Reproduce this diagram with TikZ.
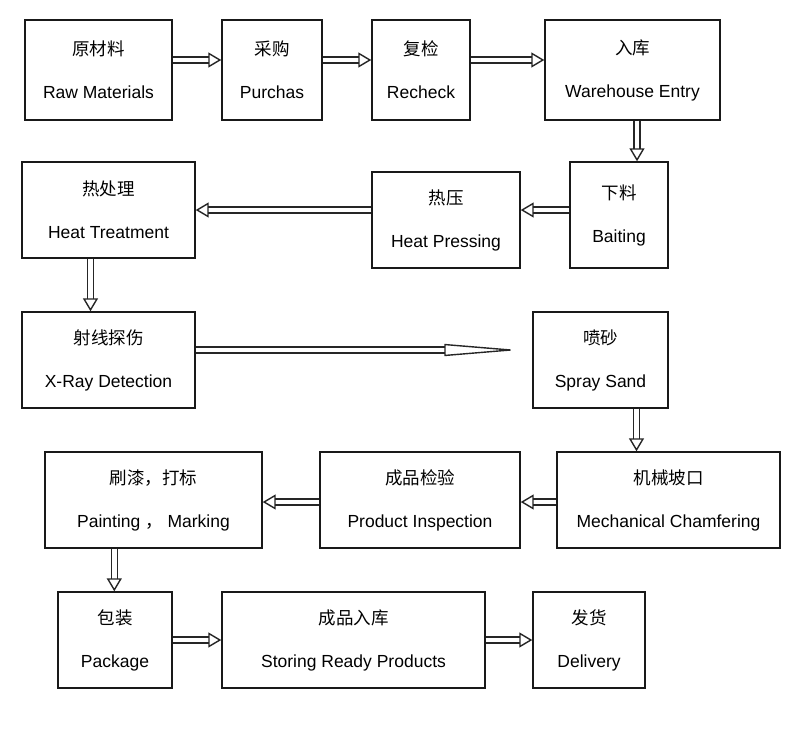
\documentclass[tikz,border=0pt]{standalone}
\usepackage{fontspec}
\setmainfont{Liberation Sans}
\newfontfamily\cjk{Noto Sans CJK SC}
\usetikzlibrary{arrows.meta}
\begin{document}
\begin{tikzpicture}[x=1pt,y=-1pt,
  box/.style={draw=black!90,line width=1.4pt,align=center,font=\fontsize{17.5}{43}\selectfont,inner sep=0pt},
  dbl/.style={draw=black!85,line width=1.4pt,double=white,double distance=4.5pt,
     -{Triangle[open,length=13pt,width=15pt,line width=1.4pt]}},
  lng/.style={draw=black!85,line width=1.4pt,double=white,double distance=4.5pt,
     -{Triangle[open,length=75pt,width=12pt,line width=1.4pt]}}]
\useasboundingbox[fill=white] (0,0) rectangle (800,728);
\newcommand\bx[6]{\node[box,minimum width=#4-#2,minimum height=#5-#3] (#1) at ({(#2+#4)/2},{(#3+#5)/2}) {#6};}
\bx{raw}{25}{20}{172}{120}{{\cjk 原材料}\\Raw Materials}
\bx{pur}{222}{20}{322}{120}{{\cjk 采购}\\Purchas}
\bx{rec}{372}{20}{470}{120}{{\cjk 复检}\\Recheck}
\bx{war}{545}{20}{720}{120}{{\cjk 入库}\\Warehouse Entry}
\bx{bai}{570}{162}{668}{268}{{\cjk 下料}\\Baiting}
\bx{hp}{372}{172}{520}{268}{{\cjk 热压}\\Heat Pressing}
\bx{ht}{22}{162}{195}{258}{{\cjk 热处理}\\Heat Treatment}
\bx{xr}{22}{312}{195}{408}{{\cjk 射线探伤}\\X-Ray Detection}
\bx{ss}{533}{312}{668}{408}{{\cjk 喷砂}\\Spray Sand}
\bx{mc}{557}{452}{780}{548}{{\cjk 机械坡口}\\Mechanical Chamfering}
\bx{pi}{320}{452}{520}{548}{{\cjk 成品检验}\\Product Inspection}
\bx{pm}{45}{452}{262}{548}{{\cjk 刷漆，打标}\\Painting {\cjk ，} Marking}
\bx{pk}{58}{592}{172}{688}{{\cjk 包装}\\Package}
\bx{st}{222}{592}{485}{688}{{\cjk 成品入库}\\Storing Ready Products}
\bx{dl}{533}{592}{645}{688}{{\cjk 发货}\\Delivery}
\draw[dbl] ([yshift=10pt]raw.east) -- ([yshift=10pt]pur.west);
\draw[dbl] ([yshift=10pt]pur.east) -- ([yshift=10pt]rec.west);
\draw[dbl] ([yshift=10pt]rec.east) -- ([yshift=10pt]war.west);
\draw[dbl] ([xshift=18pt]war.south -| bai) -- ([xshift=18pt]bai.north);
\draw[dbl] ([yshift=5pt]bai.west) -- ([yshift=5pt]bai.west -| hp.east);
\draw[dbl] ([yshift=10pt]hp.west) -- ([yshift=10pt]hp.west -| ht.east);
\draw[dbl] ([xshift=-18pt]ht.south) -- ([xshift=-18pt]xr.north);
\draw[lng,shorten >=13pt] ([yshift=10pt]xr.east) -- ([yshift=10pt]xr.east -| ss.west);
\draw[dbl] ([xshift=36pt]ss.south) -- ([xshift=36pt]ss.south |- mc.north);
\draw[dbl] ([yshift=-2pt]mc.west) -- ([yshift=-2pt]pi.east);
\draw[dbl] ([yshift=-2pt]pi.west) -- ([yshift=-2pt]pm.east);
\draw[dbl] ([xshift=70pt]pm.south west) -- ([xshift=70pt]pm.south west |- pk.north);
\draw[dbl] ([yshift=0pt]pk.east) -- ([yshift=0pt]st.west);
\draw[dbl] ([yshift=0pt]st.east) -- ([yshift=0pt]dl.west);
\end{tikzpicture}
\end{document}
